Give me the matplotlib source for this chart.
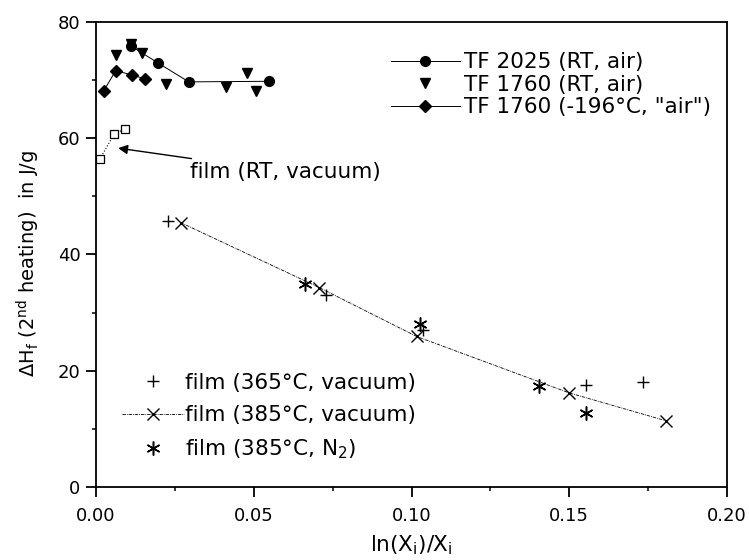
import matplotlib
matplotlib.use("Agg")
import matplotlib.pyplot as plt

plt.rcParams['font.family'] = ['DejaVu Sans']
plt.rcParams['mathtext.fontset'] = 'dejavusans'

# --- data ---
tf2025_x = [0.0110, 0.0198, 0.0294, 0.0549]
tf2025_y = [75.9, 72.9, 69.7, 69.8]

tf1760_rt_x = [0.0062, 0.0110, 0.0147, 0.0221, 0.0411, 0.0479, 0.0507]
tf1760_rt_y = [74.3, 76.2, 74.6, 69.4, 68.8, 71.2, 68.2]

tf1760_cold_x = [0.0025, 0.0062, 0.0115, 0.0155]
tf1760_cold_y = [68.2, 71.6, 70.9, 70.2]

film_rt_x = [0.0012, 0.0057, 0.0091]
film_rt_y = [56.4, 60.7, 61.6]

film365_x = [0.0229, 0.0729, 0.1037, 0.1552, 0.1733]
film365_y = [45.8, 33.0, 27.0, 17.5, 18.1]

film385_x = [0.0268, 0.0708, 0.1016, 0.1499, 0.1806]
film385_y = [45.5, 34.3, 25.9, 16.2, 11.4]

film385n2_x = [0.0662, 0.1027, 0.1405, 0.1552]
film385n2_y = [34.9, 28.0, 17.3, 12.8]

labels_top = ['TF 2025 (RT, air)', 'TF 1760 (RT, air)', 'TF 1760 (-196°C, "air")']
labels_bottom = ['film (365°C, vacuum)', 'film (385°C, vacuum)', 'film (385°C, N$_\\mathregular{2}$)']

fig = plt.figure(figsize=(7.49, 5.60), dpi=100)
ax = fig.add_axes([0.1282, 0.1304, 0.8424, 0.8303])

fs_leg = 15.5
fs_tick = 13
dashdot = (0, (4, 1.2, 1, 1.2))

l1, = ax.plot(tf2025_x, tf2025_y, '-', color='black', lw=0.7, marker='o', ms=7)
l2, = ax.plot(tf1760_rt_x, tf1760_rt_y, linestyle='none', color='black', marker='v', ms=7.5)
l3, = ax.plot(tf1760_cold_x, tf1760_cold_y, '-', color='black', lw=0.7, marker='D', ms=6)
ax.plot(film_rt_x, film_rt_y, linestyle=':', color='black', lw=0.8, marker='s', ms=6.3,
        mfc='white', mec='black', mew=0.9)

l4, = ax.plot(film365_x, film365_y, linestyle='none', color='black', marker='+', ms=9, mew=1.0)
l5, = ax.plot(film385_x, film385_y, linestyle=dashdot, color='black', lw=0.6, marker='x', ms=8.5, mew=1.0)
l6, = ax.plot(film385n2_x, film385n2_y, linestyle='none', color='black', marker=(6, 2, 0), ms=10, mew=1.1)

ax.annotate('film (RT, vacuum)', xy=(0.0070, 58.3), xytext=(0.0298, 54.2),
            fontsize=fs_leg, va='center', ha='left',
            arrowprops=dict(arrowstyle='-|>', color='black', lw=1.0,
                            mutation_scale=14, shrinkA=3, shrinkB=0))

leg1 = ax.legend([l1, l2, l3], labels_top, loc='upper right', bbox_to_anchor=(0.975, 0.935),
                 frameon=False, fontsize=fs_leg, handlelength=3.2, handletextpad=0.2,
                 labelspacing=0.12, borderpad=0, borderaxespad=0)
ax.add_artist(leg1)
ax.legend([l4, l5, l6], labels_bottom, loc='lower left', bbox_to_anchor=(0.041, 0.055),
          frameon=False, fontsize=fs_leg, handlelength=2.9, handletextpad=0.05,
          labelspacing=0.58, borderpad=0, borderaxespad=0)

ax.set_xlim(0, 0.20)
ax.set_ylim(0, 80)
ax.set_xticks([0.00, 0.05, 0.10, 0.15, 0.20])
ax.set_xticklabels(['0.00', '0.05', '0.10', '0.15', '0.20'])
ax.set_xticks([0.025, 0.075, 0.125, 0.175], minor=True)
ax.set_yticks([0, 20, 40, 60, 80])
ax.set_yticks([10, 30, 50, 70], minor=True)
ax.tick_params(which='major', direction='out', length=7.2, width=1.3, labelsize=fs_tick)
ax.tick_params(axis='x', which='major', pad=7)
ax.tick_params(axis='y', which='major', pad=4)
ax.tick_params(which='minor', direction='out', length=3, width=1.1)
for s in ax.spines.values():
    s.set_linewidth(1.3)

ax.set_xlabel('ln(X$_\\mathregular{i}$)/X$_\\mathregular{i}$', fontsize=15.5, labelpad=6)
ax.set_ylabel('ΔH$_\\mathregular{f}$ (2$^\\mathregular{nd}$ heating)  in J/g', fontsize=14)
ax.yaxis.set_label_coords(-0.085, 0.48)

fig.savefig('out.png', dpi=100)
